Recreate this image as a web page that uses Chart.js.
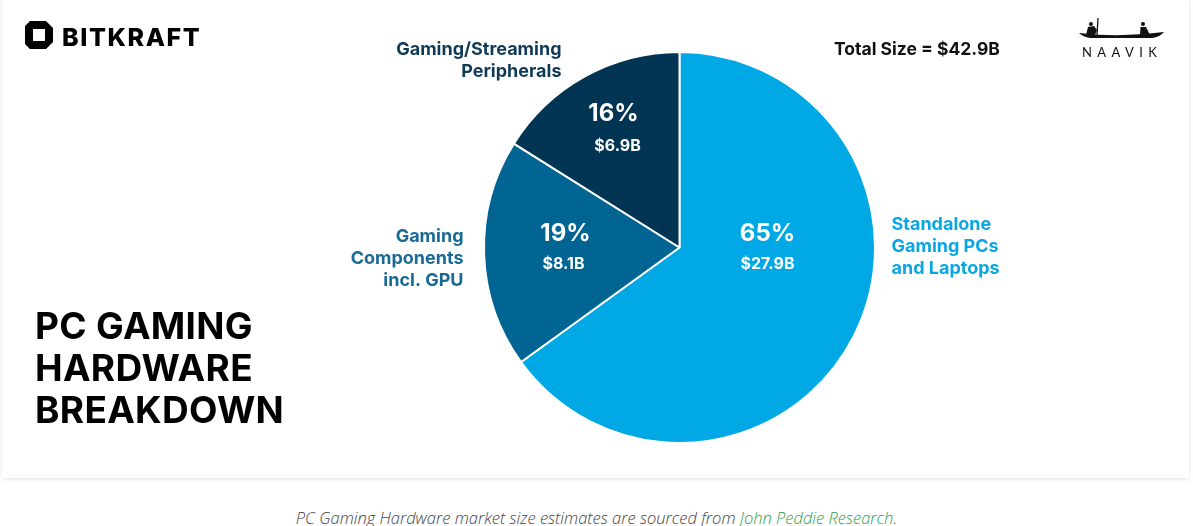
<!DOCTYPE html>
<html>
<head>
<meta charset="utf-8">
<script src="https://cdn.jsdelivr.net/npm/chart.js@4"></script>
<style>
  body { margin: 0; background: #fff; font-family: Inter, "Noto Sans", sans-serif; }
  #card {
    position: absolute; left: 2px; top: -2px; width: 1187px; height: 480px;
    background: #fff; box-shadow: 0 1px 4px rgba(0,0,0,0.12);
  }
  #wrap { position: absolute; left: 0; top: 0; width: 1193px; height: 480px; }
  .title {
    position: absolute; left: 35px; top: 305px; font-weight: 700; font-size: 37px;
    line-height: 42px; color: #000; letter-spacing: 0.3px;
  }
  .total { position: absolute; left: 834px; top: 38px; font-weight: 700; font-size: 17.5px; color: #111; }
  .bitkraft { position: absolute; left: 24px; top: 20px; }
  .naavik { position: absolute; left: 1076px; top: 16px; }
  .caption {
    position: absolute; left: 0; width: 1193px; top: 506px; text-align: center;
    font-family: "Open Sans", Lato, sans-serif; font-style: italic; font-weight: 300;
    font-size: 16.5px; color: #444;
  }
  .caption span { color: #2e9e4f; }
</style>
</head>
<body>
<div id="card"></div>
<div id="wrap"><canvas id="grafico" width="1193" height="480"></canvas></div>

<svg class="bitkraft" width="190" height="30" viewBox="0 0 190 30">
  <path d="M6 1 H22 L29 8 V22 L22 29 H6 L1 24 V6 Z M9 9 V21 H21 V9 Z" fill="#000" fill-rule="evenodd"/>
  <text x="38" y="26" font-family="Inter, sans-serif" font-weight="800" font-size="25" letter-spacing="1.6" fill="#000">BITKRAFT</text>
</svg>

<svg class="naavik" width="95" height="46" viewBox="0 0 95 46">
  <path d="M3 17 Q45 22 88 16 Q84 21 76 22 L14 22 Q7 21 3 17 Z" fill="#111"/>
  <line x1="22" y1="2" x2="21" y2="19" stroke="#111" stroke-width="1.3"/>
  <circle cx="15" cy="8" r="2" fill="#111"/>
  <path d="M10 19 L12 11 L18 10 L21 14 L19 19 Z" fill="#111"/>
  <circle cx="67" cy="8" r="2" fill="#111"/>
  <path d="M64 19 L64.5 11 L70 11 L74 19 Z" fill="#111"/>
  <text x="6" y="41" font-family="Lato, sans-serif" font-size="13" letter-spacing="5.4" fill="#111">NAAVIK</text>
</svg>

<div class="total">Total Size = $42.9B</div>
<div class="title">PC GAMING<br>HARDWARE<br>BREAKDOWN</div>
<div class="caption">PC Gaming Hardware market size estimates are sourced from <span>John Peddie Research</span>.</div>

<script>
const categorias = ['Standalone Gaming PCs and Laptops', 'Gaming Components incl. GPU', 'Gaming/Streaming Peripherals'];
const valores = [27.9, 8.1, 6.9];          // US$ bilhões
const percentuais = ['65%', '19%', '16%'];
const rotulosValor = ['$27.9B', '$8.1B', '$6.9B'];
const rotulosExternos = [
  ['Standalone', 'Gaming PCs', 'and Laptops'],
  ['Gaming', 'Components', 'incl. GPU'],
  ['Gaming/Streaming', 'Peripherals']
];

const cores = ['#00a8e6', '#006593', '#023453'];
const coresTexto = ['#0aa6e3', '#1a6a96', '#0e3a58'];

// posições dos textos relativas ao centro da pizza
const posInternas = [[88, -14, 88, 17], [-114, -14, -116, 17], [-66, -134, -62, -101]];
const posExternas = [
  { x: 212, y: -23, align: 'left' },
  { x: -216, y: -11, align: 'right' },
  { x: -118, y: -198, align: 'right' }
];

const rotulosPlugin = {
  id: 'rotulos',
  afterDatasetsDraw(chart) {
    const ctx = chart.ctx;
    const arc = chart.getDatasetMeta(0).data[0];
    const cx = arc.x, cy = arc.y;
    ctx.save();
    ctx.textBaseline = 'middle';
    valores.forEach((v, i) => {
      const p = posInternas[i];
      ctx.fillStyle = '#fff';
      ctx.textAlign = 'center';
      ctx.font = '700 24px Inter, sans-serif';
      ctx.fillText(percentuais[i], cx + p[0], cy + p[1]);
      ctx.font = '700 16px Inter, sans-serif';
      ctx.fillText(rotulosValor[i], cx + p[2], cy + p[3]);

      const e = posExternas[i];
      ctx.fillStyle = coresTexto[i];
      ctx.textAlign = e.align;
      ctx.font = '700 18px Inter, sans-serif';
      rotulosExternos[i].forEach((linha, j) => {
        ctx.fillText(linha, cx + e.x, cy + e.y + j * 22);
      });
    });
    ctx.restore();
  }
};

new Chart(document.getElementById('grafico').getContext('2d'), {
  type: 'pie',
  data: {
    labels: categorias,
    datasets: [{
      data: valores,
      backgroundColor: cores,
      borderColor: '#fff',
      borderWidth: 2
    }]
  },
  options: {
    responsive: false,
    animation: false,
    layout: { padding: { left: 483, right: 317, top: 51, bottom: 36 } },
    plugins: { legend: { display: false }, tooltip: { enabled: false } }
  },
  plugins: [rotulosPlugin]
});
</script>
</body>
</html>
